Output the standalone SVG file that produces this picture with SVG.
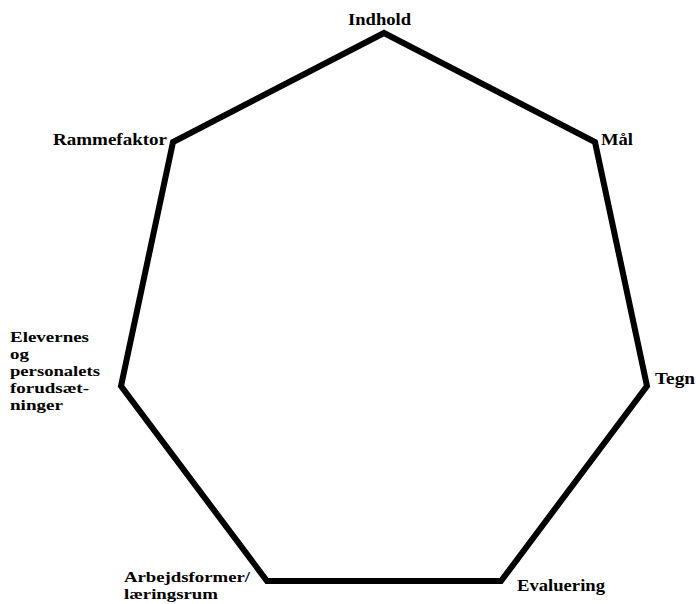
<svg xmlns="http://www.w3.org/2000/svg" width="696" height="604" viewBox="0 0 696 604">
<style>
.lbl{font-family:"Liberation Serif","Times New Roman",serif;font-weight:bold;font-size:16.5px;fill:#000}
.blk{font-size:15.3px}
.edge{fill:none;stroke:#000;stroke-width:6;stroke-linejoin:miter}
</style>
<rect width="696" height="604" fill="#fff"/>
<g id="connectors">
<path class="edge" d="M384,33 L595,142 L647,386 L501,581 L267,581 L121,386 L173,142 Z"/>
</g>
<g id="node-indhold"><text class="lbl" x="348" y="25" textLength="63" lengthAdjust="spacingAndGlyphs">Indhold</text></g>
<g id="node-maal"><text class="lbl" x="601" y="145" textLength="32" lengthAdjust="spacingAndGlyphs">Mål</text></g>
<g id="node-tegn"><text class="lbl" x="655" y="384" textLength="40" lengthAdjust="spacingAndGlyphs">Tegn</text></g>
<g id="node-evaluering"><text class="lbl" x="517" y="591" textLength="88" lengthAdjust="spacingAndGlyphs">Evaluering</text></g>
<g id="node-arbejdsformer">
<text class="lbl blk" x="124" y="582" textLength="126" lengthAdjust="spacingAndGlyphs">Arbejdsformer/</text>
<text class="lbl blk" x="124" y="599" textLength="94" lengthAdjust="spacingAndGlyphs">læringsrum</text>
</g>
<g id="node-elevernes">
<text class="lbl blk" x="10" y="342" textLength="79" lengthAdjust="spacingAndGlyphs">Elevernes</text>
<text class="lbl blk" x="10" y="359" textLength="19" lengthAdjust="spacingAndGlyphs">og</text>
<text class="lbl blk" x="10" y="376" textLength="90" lengthAdjust="spacingAndGlyphs">personalets</text>
<text class="lbl blk" x="10" y="393" textLength="79" lengthAdjust="spacingAndGlyphs">forudsæt-</text>
<text class="lbl blk" x="10" y="410" textLength="53" lengthAdjust="spacingAndGlyphs">ninger</text>
</g>
<g id="node-rammefaktor"><text class="lbl" x="53" y="145" textLength="114" lengthAdjust="spacingAndGlyphs">Rammefaktor</text></g>
</svg>
